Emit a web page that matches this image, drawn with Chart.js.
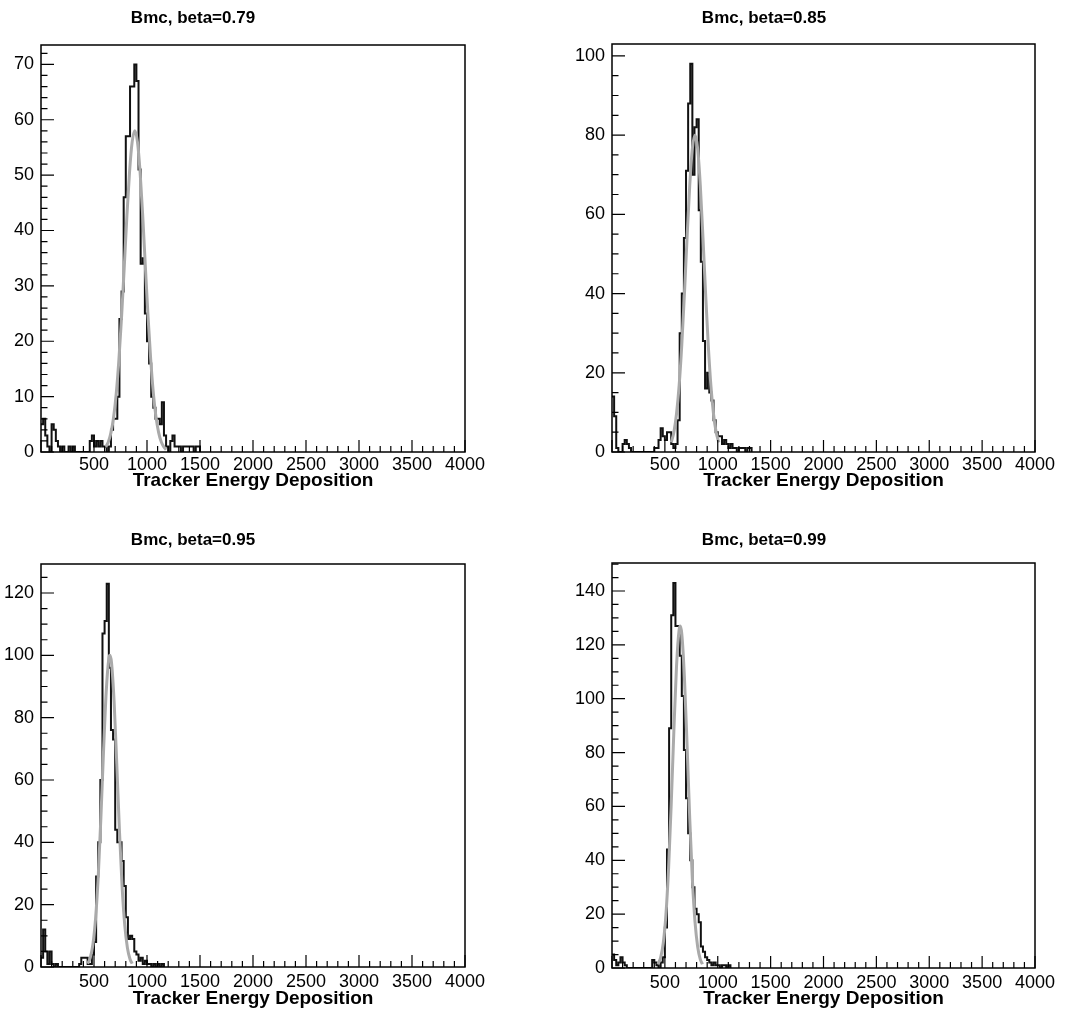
<!DOCTYPE html>
<html lang="en">
<head>
<meta charset="UTF-8">
<title>Bmc - Tracker Energy Deposition</title>
<script src="https://cdn.jsdelivr.net/npm/chart.js"></script>
<style>
  body { margin: 0; background: #fff; }
  #page { position: relative; width: 1065px; height: 1013px; }
  canvas { position: absolute; }
</style>
</head>
<body>
<div id="page">
  <canvas id="c079" width="532" height="497" style="left:0px;top:0px"></canvas>
  <canvas id="c085" width="533" height="497" style="left:532px;top:0px"></canvas>
  <canvas id="c095" width="532" height="506" style="left:0px;top:506px"></canvas>
  <canvas id="c099" width="533" height="506" style="left:532px;top:506px"></canvas>
</div>
<script>
// histogram bins are 20 wide, counts start at 0
const BIN_WIDTH = 20;

const counts079 = [5, 6, 3, 1, 0, 5, 4, 2, 1, 0, 1, 0, 0, 1, 0, 1, 0, 0, 0, 0,
  0, 0, 0, 2, 3, 1, 2, 1, 2, 1, 1, 0, 1, 4, 6, 6, 10, 24, 29, 46,
  57, 57, 66, 66, 70, 67, 51, 34, 35, 25, 20, 16, 10, 8, 6, 6, 5, 9, 3, 1,
  0, 2, 3, 1, 1, 1, 0, 1, 1, 1, 1, 1, 0, 1, 1];
const counts085 = [14, 9, 1, 0, 0, 2, 3, 2, 1, 0, 0, 0, 0, 0, 0, 0, 0, 0, 0, 0,
  1, 1, 3, 6, 4, 3, 5, 5, 2, 1, 2, 8, 30, 40, 54, 71, 88, 98, 70, 82,
  84, 61, 48, 28, 16, 20, 15, 13, 8, 5, 4, 4, 2, 3, 2, 1, 2, 1, 1, 0,
  1, 1, 1, 0, 1, 1];
const counts095 = [3, 12, 5, 1, 5, 1, 0, 1, 0, 0, 0, 0, 0, 0, 0, 0, 0, 0, 1, 3,
  3, 3, 1, 1, 4, 8, 29, 40, 60, 107, 111, 123, 96, 76, 73, 44, 40, 40, 34, 26,
  16, 9, 10, 9, 5, 4, 2, 3, 1, 2, 1, 1, 0, 1, 0, 1, 0, 1];
const counts099 = [5, 3, 1, 2, 4, 2, 1, 0, 0, 0, 0, 0, 0, 0, 0, 0, 0, 0, 0, 3,
  2, 1, 0, 2, 4, 15, 44, 89, 131, 143, 127, 127, 116, 101, 81, 63, 50, 40, 30, 22,
  20, 17, 8, 6, 4, 3, 2, 1, 2, 1, 1, 0, 1, 1, 0, 1];

// gaussian fit curves
const fitX079 = [610, 635, 660, 685, 710, 735, 760, 785, 810, 835, 860, 885, 910, 935, 960, 985, 1010, 1035, 1060, 1085, 1110, 1135, 1160, 1180];
const fitY079 = [0.9, 1.8, 3.5, 6.3, 10.6, 16.7, 24.4, 33.3, 42.5, 50.5, 56.0, 58, 56.0, 50.5, 42.5, 33.3, 24.4, 16.7, 10.6, 6.3, 3.5, 1.8, 0.9, 0.4];
const fitX085 = [560, 585, 610, 635, 660, 685, 710, 735, 760, 785, 810, 835, 860, 885, 910, 935, 960, 985, 1010];
const fitY085 = [2.4, 5.0, 9.6, 16.8, 27.1, 40.0, 54.2, 67.3, 76.6, 80, 76.6, 67.3, 54.2, 40.0, 27.1, 16.8, 9.6, 5.0, 2.4];
const fitX095 = [440, 465, 490, 515, 540, 565, 590, 615, 640, 650, 665, 690, 715, 740, 765, 790, 815, 840, 860];
const fitY095 = [1.1, 3.0, 7.3, 15.6, 29.1, 47.9, 69.3, 88.2, 99.0, 100, 97.7, 84.9, 65.0, 43.7, 25.9, 13.5, 6.2, 2.5, 1.1];
const fitX099 = [435, 460, 485, 510, 535, 560, 585, 610, 635, 645, 660, 685, 710, 735, 760, 785, 810, 835, 855];
const fitY099 = [1.4, 3.9, 9.3, 19.8, 37.0, 60.8, 88.0, 112.0, 125.7, 127, 124.1, 107.8, 82.6, 55.5, 32.9, 17.1, 7.9, 3.2, 1.4];

const xTitle = 'Tracker Energy Deposition';

const panels = [
  { id: 'c079', title: 'Bmc, beta=0.79', counts: counts079, fitX: fitX079, fitY: fitY079, yMax: 73.5, yStep: 10, yMinor: 2 },
  { id: 'c085', title: 'Bmc, beta=0.85', counts: counts085, fitX: fitX085, fitY: fitY085, yMax: 103, yStep: 20, yMinor: 5 },
  { id: 'c095', title: 'Bmc, beta=0.95', counts: counts095, fitX: fitX095, fitY: fitY095, yMax: 129.3, yStep: 20, yMinor: 5 },
  { id: 'c099', title: 'Bmc, beta=0.99', counts: counts099, fitX: fitX099, fitY: fitY099, yMax: 150.4, yStep: 20, yMinor: 5 }
];

// frame of each pad inside its canvas, and label gaps below the frame
const pads = {
  c079: { l: 41, r: 465, t: 45, b: 452, titleX: 193, titleY: 18, labelGap: 4, titleGap: 29 },
  c085: { l: 80, r: 503, t: 44, b: 452, titleX: 232, titleY: 18, labelGap: 4, titleGap: 29 },
  c095: { l: 41, r: 465, t: 58, b: 461, titleX: 193, titleY: 34, labelGap: 6, titleGap: 32 },
  c099: { l: 80, r: 503, t: 57, b: 462, titleX: 232, titleY: 34, labelGap: 6, titleGap: 31 }
};

Chart.defaults.font.family = "'Liberation Sans', Arial, Helvetica, sans-serif";
Chart.defaults.color = '#000';

// ROOT style frame with inward ticks plus the pad title
const rootFrame = {
  id: 'rootFrame',
  afterDraw(chart, args, opts) {
    const { ctx, chartArea: a, scales: { x, y } } = chart;
    ctx.save();
    ctx.strokeStyle = '#000';
    ctx.lineWidth = 1.5;
    ctx.strokeRect(a.left, a.top, a.right - a.left, a.bottom - a.top);
    ctx.lineWidth = 1.2;
    ctx.beginPath();
    for (let v = 0; v <= x.max; v += opts.xMinor) {
      const px = x.getPixelForValue(v);
      const len = v % opts.xMajor === 0 ? 12 : 6;
      ctx.moveTo(px, a.bottom);
      ctx.lineTo(px, a.bottom - len);
    }
    for (let v = 0; v <= y.max; v += opts.yMinor) {
      const py = y.getPixelForValue(v);
      const len = v % opts.yMajor === 0 ? 13 : 6.5;
      ctx.moveTo(a.left, py);
      ctx.lineTo(a.left + len, py);
    }
    ctx.stroke();
    ctx.font = "bold 17px 'Liberation Sans', Arial, sans-serif";
    ctx.fillStyle = '#000';
    ctx.textAlign = 'center';
    ctx.textBaseline = 'middle';
    ctx.fillText(opts.title, opts.titleX, opts.titleY);
    ctx.restore();
  }
};

function makeChart(p) {
  const canvas = document.getElementById(p.id);
  const pad = pads[p.id];
  const axisH = canvas.height - pad.b;

  const hist = p.counts.map((c, i) => ({ x: i * BIN_WIDTH, y: c }));
  hist.push({ x: p.counts.length * BIN_WIDTH, y: 0 });
  const fit = p.fitX.map((x, i) => ({ x: x, y: p.fitY[i] }));

  new Chart(canvas.getContext('2d'), {
    type: 'line',
    data: {
      datasets: [
        {
          label: 'fit',
          data: fit,
          borderColor: 'rgb(170,170,170)',
          borderWidth: 3,
          pointRadius: 0,
          cubicInterpolationMode: 'monotone',
          order: 0
        },
        {
          label: 'hist',
          data: hist,
          borderColor: '#111',
          borderWidth: 2,
          pointRadius: 0,
          stepped: 'before',
          order: 1
        }
      ]
    },
    options: {
      responsive: false,
      animation: false,
      layout: { padding: { left: 0, top: pad.t, right: canvas.width - pad.r, bottom: 0 } },
      scales: {
        x: {
          type: 'linear',
          min: 0,
          max: 4000,
          afterFit: s => { s.height = axisH; },
          grid: { display: false, drawTicks: false },
          border: { display: false },
          ticks: {
            stepSize: 500,
            autoSkip: false,
            maxRotation: 0,
            padding: pad.labelGap,
            color: '#000',
            font: { size: 18, lineHeight: 1 },
            callback: v => v === 0 ? '' : String(v)
          },
          title: {
            display: true,
            text: xTitle,
            color: '#000',
            font: { size: 19, weight: 'bold', lineHeight: 1 },
            padding: { top: 0, bottom: axisH - pad.titleGap - 9.5 }
          }
        },
        y: {
          type: 'linear',
          min: 0,
          max: p.yMax,
          afterFit: s => { s.width = pad.l; },
          grid: { display: false, drawTicks: false },
          border: { display: false },
          ticks: {
            stepSize: p.yStep,
            includeBounds: false,
            padding: 7,
            color: '#000',
            font: { size: 18, lineHeight: 1 },
            callback: v => String(v)
          }
        }
      },
      plugins: {
        legend: { display: false },
        tooltip: { enabled: false },
        title: { display: false },
        rootFrame: {
          title: p.title,
          titleX: pad.titleX,
          titleY: pad.titleY,
          xMajor: 500, xMinor: 100,
          yMajor: p.yStep, yMinor: p.yMinor
        }
      }
    },
    plugins: [rootFrame]
  });
}

panels.forEach(makeChart);
</script>
</body>
</html>
